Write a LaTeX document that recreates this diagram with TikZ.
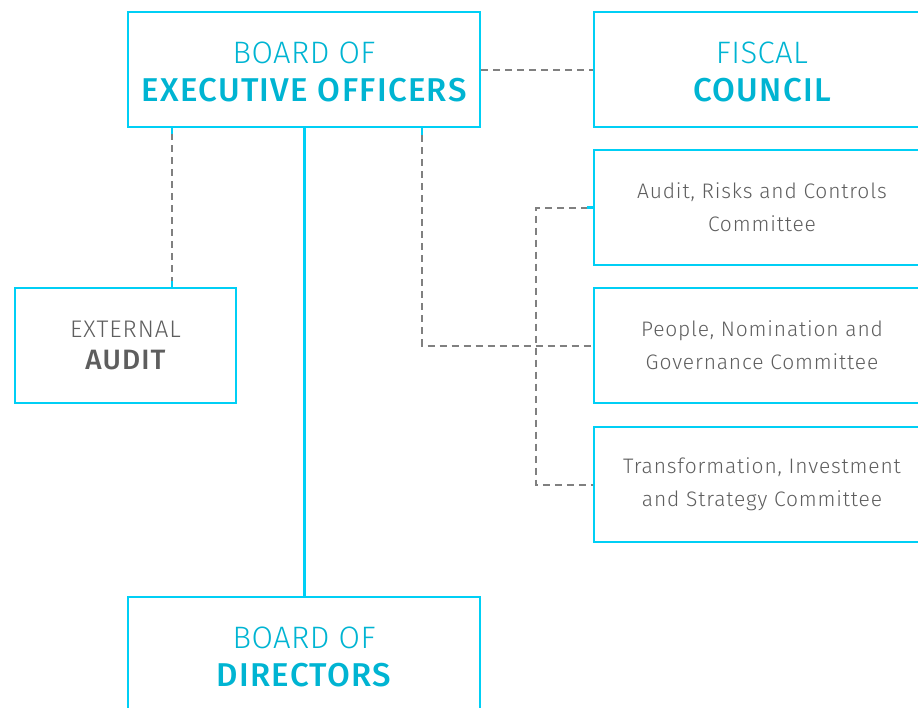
\documentclass[tikz,border=0pt]{standalone}
\usepackage{fontspec}
\setmainfont{Fira Sans}
\newfontfamily\lightfont{Fira Sans Light}[LetterSpace=4]
\newfontfamily\lighttitlefont{Fira Sans Light}[LetterSpace=1.5]
\newfontfamily\medfont{Fira Sans Medium}[LetterSpace=4]
\usetikzlibrary{calc}
\definecolor{boxcyan}{HTML}{00CFF5}
\definecolor{titlecyan}{HTML}{00B4D2}
\definecolor{textgray}{HTML}{5E5E5E}
\definecolor{dashgray}{HTML}{808080}
\tikzset{
  orgbox/.style={draw=boxcyan, line width=2.2pt, rectangle, inner sep=0pt, align=center},
  bigbox/.style={orgbox, minimum width=352pt, minimum height=115pt, text=titlecyan,
    font=\fontsize{32}{38}\selectfont},
  sidebox/.style={orgbox, minimum width=336pt, minimum height=115pt},
  committee/.style={sidebox, text=textgray, font=\lightfont\fontsize{21}{33}\selectfont},
  dashlink/.style={draw=dashgray, line width=2pt, dash pattern=on 7pt off 5pt},
  stub/.style={draw=boxcyan, line width=2.2pt},
  mainlink/.style={draw=boxcyan, line width=3pt},
}
% the strut lowers the two-line titles a little inside their boxes
\newcommand{\lighttitle}[1]{{\lighttitlefont\fontsize{31}{38}\selectfont\rule{0pt}{26pt}#1}}
\newcommand{\boldtitle}[1]{{\medfont\fontsize{33}{38}\selectfont #1}}
\begin{document}
\begin{tikzpicture}[x=1pt, y=-1pt]
  \useasboundingbox (0,0) rectangle (918,707);
  \clip (0,0) rectangle (918,707);

  % main boards
  \node[bigbox] (beo) at (304,69.5)
    {\lighttitle{BOARD OF}\\\boldtitle{EXECUTIVE OFFICERS}};
  \node[bigbox] (bod) at (304,654.5)
    {\lighttitle{BOARD OF}\\\boldtitle{DIRECTORS}};

  % fiscal council and committees
  \node[sidebox, text=titlecyan, font=\fontsize{32}{38}\selectfont] (fis) at (762,69.5)
    {\lighttitle{FISCAL}\\\boldtitle{COUNCIL}};
  \node[committee] (aud) at (762,207.5) {Audit, Risks and Controls\\Committee};
  \node[committee] (ppl) at (762,345.5) {People, Nomination and\\Governance Committee};
  \node[committee] (trn) at (762,484.5) {Transformation, Investment\\and Strategy Committee};

  % external audit
  \node[orgbox, minimum width=221pt, minimum height=115pt, text=textgray,
        font=\fontsize{24}{32}\selectfont] (ext) at (125.5,345.5)
    {{\lightfont\fontsize{24}{32}\selectfont EXTERNAL}\\{\medfont\fontsize{28}{32}\selectfont AUDIT}};

  % reporting line
  \draw[mainlink] (beo.south) -- (bod.north);

  % fiscal council link
  \draw[dashlink] (beo.east) -- (fis.west);

  % external audit link
  \coordinate (ea) at ($(beo.south west)+(45,0)$);
  \coordinate (eb) at (ea |- ext.north);
  \draw[dashlink] ($(ea)+(0,5)$) -- ($(eb)+(0,-5)$);
  \draw[stub] (ea) -- ++(0,6);
  \draw[stub] (eb) -- ++(0,-6);

  % committees link
  \coordinate (ca) at ($(beo.south west)+(295,0)$);
  \draw[stub] (ca) -- ++(0,7);
  \draw[dashlink] ($(ca)+(0,7)$) |- (ppl.west);
  \coordinate (bus) at ($(aud.west)+(-57,0)$);
  \draw[dashlink] ($(aud.west)+(-5,0)$) -- (bus) -- (bus |- trn.west) -- (trn.west);
  \draw[stub] (aud.west) -- ++(-6,0);
\end{tikzpicture}
\end{document}
